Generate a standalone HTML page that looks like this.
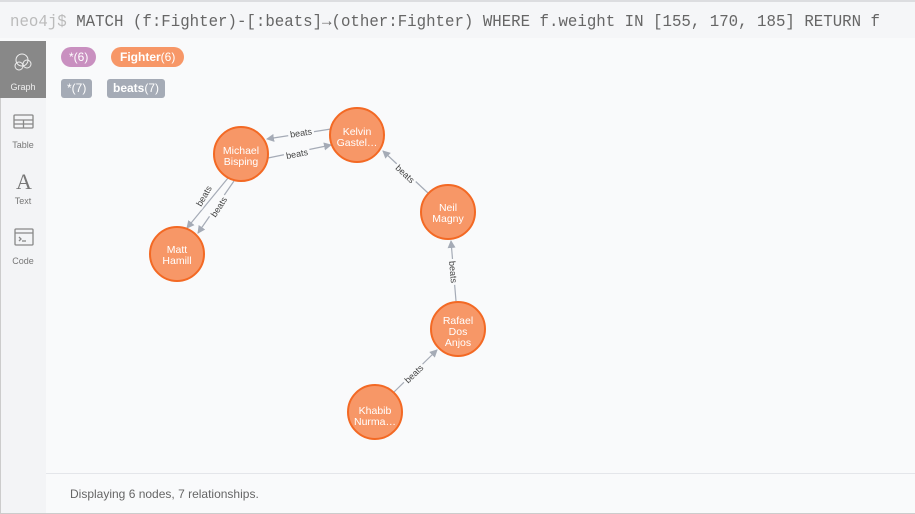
<!DOCTYPE html>
<html><head><meta charset="utf-8"><style>
*{margin:0;padding:0;box-sizing:border-box}
body{width:915px;height:514px;background:#f9fafb;font-family:"Liberation Sans",sans-serif;position:relative;overflow:hidden}
#top{position:absolute;left:0;top:0;width:915px;height:38px;background:#f5f6f8;border-top:2px solid #dcdde0}
#side{position:absolute;left:0;top:41px;width:46px;height:473px;background:#f3f4f6;border-left:1px solid #ccc}
#sel{position:absolute;left:0;top:41px;width:46px;height:57px;background:#888}
.lbl{position:absolute;width:46px;text-align:center;font-size:9px;color:#777}
#bottomline{position:absolute;left:46px;top:473px;width:869px;border-top:1px solid #e4e6ea}
#status{position:absolute;left:70px;top:487px;font-size:12px;color:#666}
.pill{position:absolute;height:20px;line-height:20px;font-size:12px;color:#fff;padding:0 8px}
#bb{position:absolute;left:0;bottom:0;width:915px;border-bottom:1px solid #ccc}
</style></head><body>
<div id="top"></div>
<svg style="position:absolute;left:0;top:0" width="915" height="40">
<text x="10" y="26" font-family="Liberation Mono,monospace" font-size="17" fill="#666" textLength="870" lengthAdjust="spacingAndGlyphs" xml:space="preserve"><tspan fill="#bbb">neo4j$</tspan> MATCH (f:Fighter)-[:beats]→(other:Fighter) WHERE f.weight IN [155, 170, 185] RETURN f</text>
</svg>
<div id="side"></div>
<div id="sel"></div>
<svg style="position:absolute;left:0;top:41px" width="46" height="240">
<g fill="none" stroke="#eee" stroke-width="1"><circle cx="22" cy="19" r="6"/><circle cx="19" cy="25" r="4"/><circle cx="27" cy="23" r="4"/></g>
<g fill="none" stroke="#888" stroke-width="1.3"><rect x="14" y="74" width="19" height="13" rx="1"/><line x1="14" y1="79" x2="33" y2="79"/><line x1="14" y1="83" x2="33" y2="83"/><line x1="23.5" y1="79" x2="23.5" y2="87"/>
<rect x="15" y="188" width="18" height="16" rx="1"/><line x1="15" y1="192" x2="33" y2="192"/><polyline points="19,196 21,198 19,200"/><line x1="22" y1="200" x2="26" y2="200"/></g>
<text x="24" y="148" text-anchor="middle" font-family="Liberation Serif,serif" font-size="22" fill="#777">A</text>
</svg>
<div class="lbl" style="top:82px;color:#eee">Graph</div>
<div class="lbl" style="top:140px">Table</div>
<div class="lbl" style="top:196px">Text</div>
<div class="lbl" style="top:256px">Code</div>
<div class="pill" style="left:61px;top:47px;background:#c990c0;border-radius:10px">*(6)</div>
<div class="pill" style="left:111px;top:47px;background:#f79767;border-radius:10px;padding:0 9px"><b>Fighter</b>(6)</div>
<div class="pill" style="left:61px;top:79px;background:#a5abb6;border-radius:3px;height:19px;line-height:19px;padding:0 6px">*(7)</div>
<div class="pill" style="left:107px;top:79px;background:#a5abb6;border-radius:3px;height:19px;line-height:19px;padding:0 6px"><b>beats</b>(7)</div>
<svg style="position:absolute;left:0;top:0" width="915" height="514" font-family="Liberation Sans,sans-serif">
<defs><marker id="a" markerWidth="8" markerHeight="8" refX="7" refY="4" orient="auto" markerUnits="userSpaceOnUse"><path d="M0,0L8,4L0,8z" fill="#a5abb6"/></marker></defs>
<g stroke="#a5abb6" stroke-width="1.2" marker-end="url(#a)">
<line x1="331" y1="129" x2="267" y2="139"/>
<line x1="268" y1="158" x2="331" y2="145"/>
<line x1="228" y1="178" x2="187" y2="228"/>
<line x1="234" y1="181" x2="198" y2="233"/>
<line x1="428" y1="193" x2="383" y2="151"/>
<line x1="456" y1="301" x2="451" y2="241"/>
<line x1="394" y1="392" x2="437" y2="350"/>
</g>
<g font-size="9" fill="#444" text-anchor="middle">
<g transform="translate(301,133) rotate(-9)"><rect x="-13" y="-6" width="26" height="11" fill="#f9fafb"/><text y="3">beats</text></g>
<g transform="translate(297,154) rotate(-11)"><rect x="-13" y="-6" width="26" height="11" fill="#f9fafb"/><text y="3">beats</text></g>
<g transform="translate(204,196) rotate(-60)"><rect x="-13" y="-6" width="26" height="11" fill="#f9fafb"/><text y="3">beats</text></g>
<g transform="translate(219,207) rotate(-57)"><rect x="-13" y="-6" width="26" height="11" fill="#f9fafb"/><text y="3">beats</text></g>
<g transform="translate(405,174) rotate(43)"><rect x="-13" y="-6" width="26" height="11" fill="#f9fafb"/><text y="3">beats</text></g>
<g transform="translate(453,272) rotate(85)"><rect x="-13" y="-6" width="26" height="11" fill="#f9fafb"/><text y="3">beats</text></g>
<g transform="translate(414,374) rotate(-44)"><rect x="-13" y="-6" width="26" height="11" fill="#f9fafb"/><text y="3">beats</text></g>
</g>
<g fill="#f79767" stroke="#f36924" stroke-width="2">
<circle cx="241" cy="154" r="27"/><circle cx="357" cy="135" r="27"/><circle cx="177" cy="254" r="27"/>
<circle cx="448" cy="212" r="27"/><circle cx="458" cy="329" r="27"/><circle cx="375" cy="412" r="27"/>
</g>
<g fill="#fff" font-size="10.5" text-anchor="middle">
<text x="241" y="154">Michael</text><text x="241" y="165">Bisping</text>
<text x="357" y="135">Kelvin</text><text x="357" y="146">Gastel…</text>
<text x="177" y="253">Matt</text><text x="177" y="264">Hamill</text>
<text x="448" y="211">Neil</text><text x="448" y="222">Magny</text>
<text x="458" y="324">Rafael</text><text x="458" y="335">Dos</text><text x="458" y="346">Anjos</text>
<text x="375" y="414">Khabib</text><text x="375" y="425">Nurma…</text>
</g>
</svg>
<div id="bottomline"></div>
<div id="status">Displaying 6 nodes, 7 relationships.</div>
<div id="bb"></div>
</body></html>
